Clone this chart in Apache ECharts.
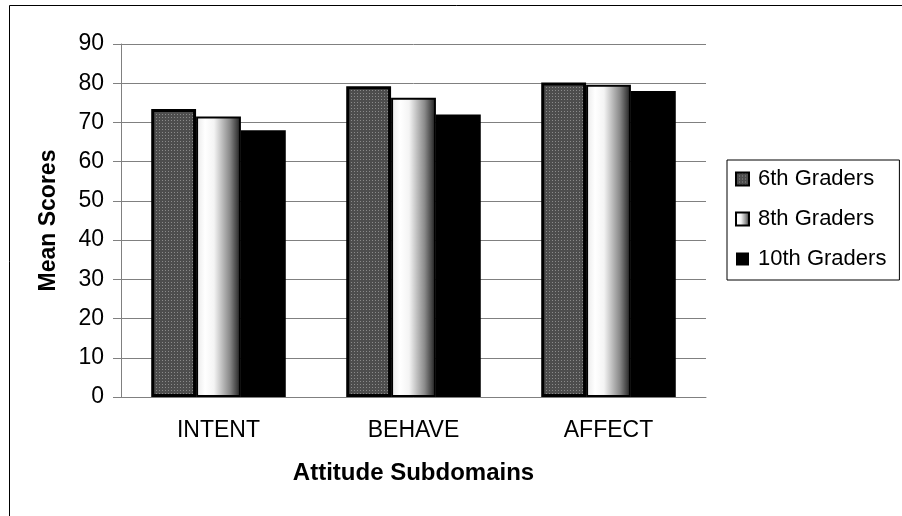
<!DOCTYPE html>
<html><head><meta charset="utf-8">
<script src="https://cdn.jsdelivr.net/npm/echarts@6/dist/echarts.min.js"></script>
<style>html,body{margin:0;padding:0;background:#fff}#c{width:902px;height:516px}</style>
</head><body><div id="c"></div>
<script>
var categories = ['INTENT', 'BEHAVE', 'AFFECT'];
var seriesNames = ['6th Graders', '8th Graders', '10th Graders'];
var grade6 = [73.4, 79.2, 80.2];
var grade8 = [71.5, 76.3, 79.6];
var grade10 = [68.0, 72.0, 78.0];
var yTicks = [0, 10, 20, 30, 40, 50, 60, 70, 80, 90];

var FONT = '"Liberation Sans", Arial, sans-serif';

// dotted dark gray pattern
var pc = document.createElement('canvas');
pc.width = 3; pc.height = 3;
var px = pc.getContext('2d');
px.fillStyle = '#4d4d4d'; px.fillRect(0, 0, 3, 3);
px.fillStyle = '#8a8a8a'; px.fillRect(0, 0, 1, 1);

var grad8 = new echarts.graphic.LinearGradient(0, 0, 1, 0, [
  {offset: 0, color: '#e8e8e8'},
  {offset: 0.2, color: '#ffffff'},
  {offset: 0.4, color: '#f4f4f4'},
  {offset: 0.75, color: '#8a8a8a'},
  {offset: 1, color: '#1a1a1a'}
]);

var chart = echarts.init(document.getElementById('c'), null, {renderer: 'canvas'});
chart.setOption({
  animation: false,
  backgroundColor: '#fff',
  graphic: [{
    type: 'rect', shape: {x: 9.5, y: 5.5, width: 900, height: 520},
    style: {fill: 'none', stroke: '#000', lineWidth: 1}, z: -1
  }],
  grid: {left: 121, right: 196, top: 44, bottom: 119},
  legend: {
    orient: 'vertical', left: 727, top: 160,
    padding: [8, 13, 10, 8],
    borderColor: '#000', borderWidth: 1,
    itemWidth: 13, itemHeight: 13, itemGap: 18,
    icon: 'rect',
    textStyle: {fontFamily: FONT, fontSize: 22, color: '#000', padding: [0, 0, 0, 4]},
    data: seriesNames
  },
  xAxis: {
    type: 'category', data: categories,
    name: 'Attitude Subdomains', nameLocation: 'middle', nameGap: 64,
    nameTextStyle: {fontFamily: FONT, fontSize: 24, fontWeight: 'bold', color: '#000'},
    axisLine: {lineStyle: {color: '#808080', width: 1}},
    axisTick: {show: false},
    axisLabel: {fontFamily: FONT, fontSize: 23, color: '#000', margin: 22}
  },
  yAxis: {
    type: 'value', min: yTicks[0], max: yTicks[yTicks.length - 1], interval: 10,
    name: 'Mean Scores', nameLocation: 'middle', nameGap: 61, nameRotate: 90,
    nameTextStyle: {fontFamily: FONT, fontSize: 23, fontWeight: 'bold', color: '#000'},
    axisLine: {show: true, lineStyle: {color: '#808080', width: 1}},
    axisTick: {show: true, length: 8, inside: false, lineStyle: {color: '#808080'}},
    axisLabel: {fontFamily: FONT, fontSize: 23, color: '#000', margin: 17},
    splitLine: {show: true, lineStyle: {color: '#808080', width: 1}}
  },
  series: [
    {name: seriesNames[0], type: 'bar', data: grade6, barGap: '0%', barCategoryGap: '31%',
      itemStyle: {color: {image: pc, repeat: 'repeat'}, borderColor: '#000', borderWidth: 3}},
    {name: seriesNames[1], type: 'bar', data: grade8, barGap: '0%', barCategoryGap: '31%',
      itemStyle: {color: grad8, borderColor: '#000', borderWidth: 2}},
    {name: seriesNames[2], type: 'bar', data: grade10, barGap: '0%', barCategoryGap: '31%',
      itemStyle: {color: '#000', borderColor: '#000', borderWidth: 0}}
  ]
});
</script></body></html>
